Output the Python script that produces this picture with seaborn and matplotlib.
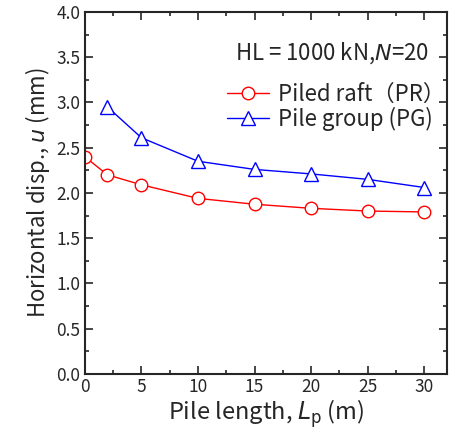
import numpy as np
import pandas as pd
import seaborn as sns
import matplotlib.pyplot as plt
from matplotlib.ticker import MultipleLocator

pile_length_pr = [0, 2, 5, 10, 15, 20, 25, 30]
disp_pr = [2.40, 2.20, 2.09, 1.94, 1.875, 1.83, 1.80, 1.79]
pile_length_pg = [2, 5, 10, 15, 20, 25, 30]
disp_pg = [2.95, 2.61, 2.35, 2.26, 2.21, 2.15, 2.06]
label_pr = "Piled raft（PR）"
label_pg = "Pile group (PG)"

sns.set_style("ticks")
plt.rcParams["font.family"] = ["Noto Sans CJK JP", "DejaVu Sans"]

df_pr = pd.DataFrame({"L": pile_length_pr, "u": disp_pr})
df_pg = pd.DataFrame({"L": pile_length_pg, "u": disp_pg})

fig = plt.figure(figsize=(4.51, 4.41), dpi=100)
ax = fig.add_axes([0.188, 0.152, 0.803, 0.821])

sns.lineplot(data=df_pr, x="L", y="u", ax=ax, color="red", marker="o", markersize=9,
             markerfacecolor="white", markeredgecolor="red", markeredgewidth=1.0,
             linewidth=1.0, label=label_pr)
sns.lineplot(data=df_pg, x="L", y="u", ax=ax, color="blue", marker="^", markersize=10,
             markerfacecolor="white", markeredgecolor="blue", markeredgewidth=1.0,
             linewidth=1.0, label=label_pg)

ax.set_xlim(0, 32)
ax.set_ylim(0, 4.0)
ax.xaxis.set_major_locator(MultipleLocator(5))
ax.xaxis.set_minor_locator(MultipleLocator(2.5))
ax.yaxis.set_minor_locator(MultipleLocator(0.25))
yt = np.arange(0, 4.01, 0.5)
ax.set_yticks(yt)
ax.set_yticklabels([f"{v:.1f}" for v in yt])

ax.tick_params(which="both", direction="in", top=True, right=True, width=1.2,
               labelsize=12.5, pad=3)
ax.tick_params(which="major", length=6)
ax.tick_params(which="minor", length=3)
for s in ax.spines.values():
    s.set_linewidth(1.5)

ax.set_xlabel("Pile length, $\\it{L}_{\\rm p}$ (m)", fontsize=17, labelpad=1)
ax.set_ylabel("Horizontal disp., $\\it{u}$ (mm)", fontsize=16, labelpad=3)

ax.text(0.95, 0.887, "HL = 1000 kN,$\\it{N}$=20", transform=ax.transAxes,
        ha="right", va="center", fontsize=16)

ax.legend(loc="upper right", bbox_to_anchor=(0.995, 0.805), frameon=False, fontsize=16,
          handlelength=1.9, handletextpad=0.4, labelspacing=0.05, borderaxespad=0,
          borderpad=0)

fig.savefig("out.png", dpi=100)
